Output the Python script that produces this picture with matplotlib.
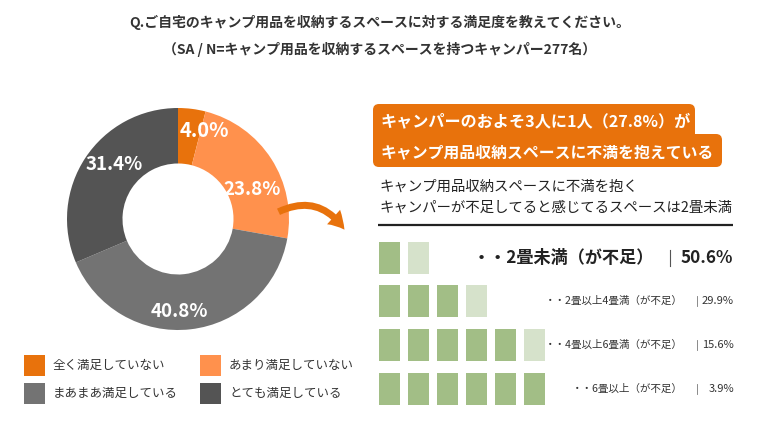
import matplotlib
matplotlib.use("Agg")
import matplotlib.pyplot as plt
from matplotlib.patches import Rectangle, FancyBboxPatch, FancyArrowPatch
import numpy as np

plt.rcParams['font.family'] = ['Noto Sans CJK JP', 'DejaVu Sans']

# ---- data ----
title_line1 = "Q.ご自宅のキャンプ用品を収納するスペースに対する満足度を教えてください。"
title_line2 = "（SA / N=キャンプ用品を収納するスペースを持つキャンパー277名）"

pie_labels = ["全く満足していない", "あまり満足していない", "まあまあ満足している", "とても満足している"]
pie_values = [4.0, 23.8, 40.8, 31.4]
pie_colors = ["#E8720C", "#FF914D", "#737373", "#545454"]

callout_line1 = "キャンパーのおよそ3人に1人（27.8%）が"
callout_line2 = "キャンプ用品収納スペースに不満を抱えている"
sub_line1 = "キャンプ用品収納スペースに不満を抱く"
sub_line2 = "キャンパーが不足してると感じてるスペースは2畳未満"

space_labels = ["・・2畳未満（が不足）", "・・2畳以上4畳満（が不足）", "・・4畳以上6畳満（が不足）", "・・6畳以上（が不足）"]
space_values = [50.6, 29.9, 15.6, 3.9]
tatami_full = [1, 3, 5, 6]
tatami_half = [1, 1, 1, 0]

W, H = 761, 422
fig = plt.figure(figsize=(W / 100, H / 100), dpi=100)
fig.patch.set_facecolor("white")

# ---- donut ----
cx, cy, R = 178, 219, 111
pax = fig.add_axes([(cx - R) / W, (H - cy - R) / H, 2 * R / W, 2 * R / H])
wedges, _ = pax.pie(pie_values, colors=pie_colors, startangle=90, counterclock=False,
                    radius=1.0, wedgeprops=dict(width=0.5, edgecolor="none"))
pax.set_xlim(-1, 1)
pax.set_ylim(-1, 1)
pax.set_aspect("equal")
pax.axis("off")
label_r = [0.80, 0.72, 0.79, 0.76]
label_nudge = [(0.14, 0.0), (0.06, -0.12), (-0.08, -0.05), (0.06, 0.07)]
label_size = [14.5, 13.5, 13.5, 13.5]
for w, v, r, (dx, dy), fs in zip(wedges, pie_values, label_r, label_nudge, label_size):
    ang = np.deg2rad((w.theta1 + w.theta2) / 2)
    pax.text(r * np.cos(ang) + dx, r * np.sin(ang) + dy, f"{v:.1f}%", ha="center", va="center",
             color="white", fontsize=fs, fontweight="bold")

# ---- overlay ----
ax = fig.add_axes([0, 0, 1, 1])
ax.set_xlim(0, W)
ax.set_ylim(H, 0)
ax.axis("off")
ax.patch.set_alpha(0)

ax.text(380, 22, title_line1, ha="center", va="center", fontsize=10, fontweight="bold", color="#333333")
ax.text(380, 49, title_line2, ha="center", va="center", fontsize=10, fontweight="bold", color="#333333")

# legend
leg_pos = [(24, 365), (200, 365), (24, 393), (200, 393)]
for (lx, ly), lab, col in zip(leg_pos, pie_labels, pie_colors):
    ax.add_patch(Rectangle((lx, ly - 10.5), 21, 21, facecolor=col, edgecolor="none"))
    ax.text(lx + 29, ly, lab, ha="left", va="center", fontsize=9, color="#333333")

# arrow
arr = FancyArrowPatch((276, 213), (346, 232), connectionstyle="arc3,rad=-0.45",
                      arrowstyle="simple,head_width=14,head_length=12,tail_width=5",
                      color="#E8720C", linewidth=0, mutation_scale=1)
ax.add_patch(arr)

# callout box
orange = "#E8720C"
ax.add_patch(FancyBboxPatch((377, 108), 314, 48, boxstyle="round,pad=4,rounding_size=6",
                            facecolor=orange, edgecolor="none"))
ax.add_patch(FancyBboxPatch((377, 138), 341, 25, boxstyle="round,pad=4,rounding_size=6",
                            facecolor=orange, edgecolor="none"))
ax.text(381, 121, callout_line1, ha="left", va="center", fontsize=11.6, fontweight="bold", color="white")
ax.text(381, 152, callout_line2, ha="left", va="center", fontsize=11.4, fontweight="bold", color="white")

ax.text(379, 187, sub_line1, ha="left", va="center", fontsize=10.4, color="#222222")
ax.text(379, 208, sub_line2, ha="left", va="center", fontsize=10.4, color="#222222")
ax.plot([378, 733], [225, 225], color="#222222", linewidth=1.6, solid_capstyle="butt")

# tatami rows
row_y = [242, 285, 329, 373]
dark_g, light_g = "#A2BE86", "#D6E2CB"
for i, (y0, nf, nh) in enumerate(zip(row_y, tatami_full, tatami_half)):
    for j in range(nf + nh):
        col = dark_g if j < nf else light_g
        ax.add_patch(Rectangle((379 + 29 * j, y0), 21, 31.5, facecolor=col, edgecolor="none"))
    yc = y0 + 16
    if i == 0:
        ax.text(654, yc, space_labels[i], ha="right", va="center", fontsize=12.3, fontweight="bold", color="#222222")
        ax.plot([670, 670], [yc - 8, yc + 8], color="#555555", linewidth=0.8)
        ax.text(733, yc, f"{space_values[i]:.1f}%", ha="right", va="center", fontsize=12.3, fontweight="bold", color="#222222")
    else:
        ax.text(683, yc, space_labels[i], ha="right", va="center", fontsize=7.6, color="#333333")
        ax.plot([697, 697], [yc - 5, yc + 5], color="#777777", linewidth=0.6)
        ax.text(734, yc, f"{space_values[i]:.1f}%", ha="right", va="center", fontsize=8, color="#333333")

fig.savefig("out.png", dpi=100, facecolor="white")
